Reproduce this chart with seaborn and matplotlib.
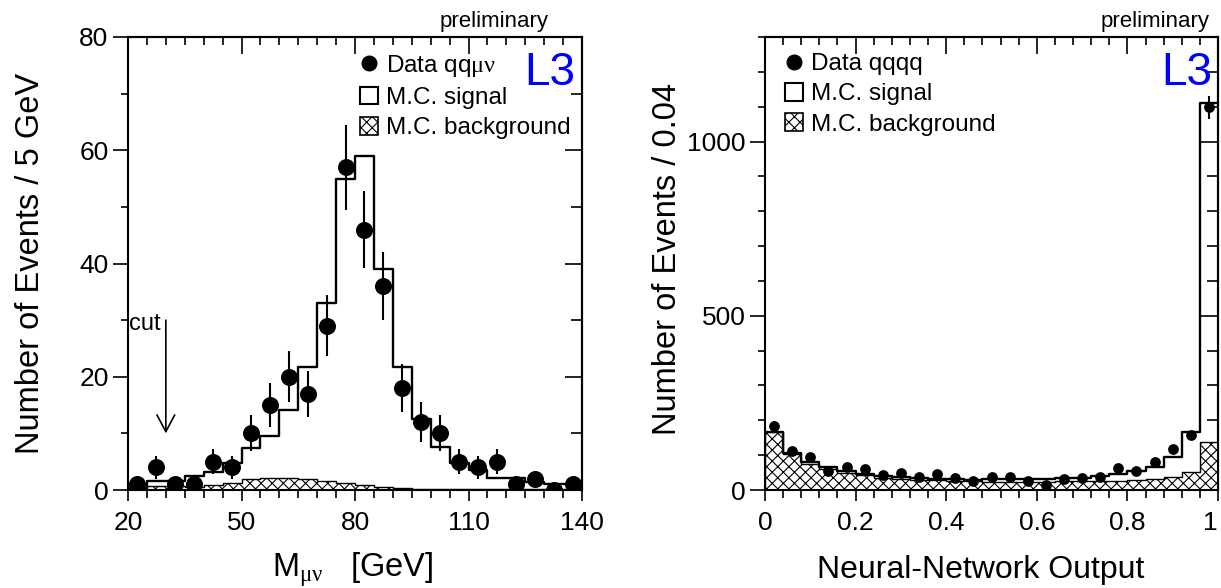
import numpy as np
import pandas as pd
import seaborn as sns
import matplotlib
matplotlib.use("Agg")
import matplotlib.pyplot as plt
from matplotlib.lines import Line2D
from matplotlib.patches import Patch
from matplotlib.ticker import MultipleLocator, FuncFormatter

# 왼쪽: M_mu nu 분포 (qq mu nu), 5 GeV 구간
mass_edges = [20, 25, 30, 35, 40, 45, 50, 55, 60, 65, 70, 75, 80,
              85, 90, 95, 100, 105, 110, 115, 120, 125, 130, 135, 140]
mass_centers = [22.5, 27.5, 32.5, 37.5, 42.5, 47.5, 52.5, 57.5, 62.5, 67.5, 72.5, 77.5,
                82.5, 87.5, 92.5, 97.5, 102.5, 107.5, 112.5, 117.5, 122.5, 127.5, 132.5, 137.5]
mass_data = [1, 4, 1, 1, 5, 4, 10, 15, 20, 17, 29, 57, 46, 36, 18, 12, 10, 5, 4, 5, 1, 2, 0, 1]
mass_err = [1.0, 2.0, 1.0, 1.0, 2.2, 2.0, 3.2, 3.9, 4.5, 4.1, 5.4, 7.5,
            6.8, 6.0, 4.2, 3.5, 3.2, 2.2, 2.0, 2.2, 1.0, 1.4, 0.0, 1.0]
mass_mc_total = [0.3, 1.6, 1.6, 2.5, 3.2, 4.7, 7.4, 9.5, 14.2, 21.8, 33.1, 54.9,
                 59.0, 39.1, 21.8, 12.6, 7.6, 4.7, 3.5, 2.1, 2.1, 1.5, 1.1, 1.1]
mass_mc_bkg = [0.2, 0.7, 0.7, 0.5, 0.9, 1.2, 2.0, 2.2, 2.2, 2.0, 1.6, 1.3,
               0.8, 0.6, 0.3, 0.1, 0.1, 0.1, 0.1, 0.1, 0.1, 0.1, 0.1, 0.1]

# 오른쪽: 신경망 출력 (qqqq), 0.04 구간
nn_edges = [0.0, 0.04, 0.08, 0.12, 0.16, 0.2, 0.24, 0.28, 0.32, 0.36, 0.4, 0.44, 0.48,
            0.52, 0.56, 0.6, 0.64, 0.68, 0.72, 0.76, 0.8, 0.84, 0.88, 0.92, 0.96, 1.0]
nn_centers = [0.02, 0.06, 0.1, 0.14, 0.18, 0.22, 0.26, 0.3, 0.34, 0.38, 0.42, 0.46, 0.5,
              0.54, 0.58, 0.62, 0.66, 0.7, 0.74, 0.78, 0.82, 0.86, 0.9, 0.94, 0.98]
nn_data = [184, 113, 96, 55, 67, 60, 42, 48, 38, 46, 35, 27, 36,
           36, 27, 14, 33, 34, 37, 63, 55, 80, 117, 157, 1098]
nn_err = [13.6, 10.6, 9.8, 7.4, 8.2, 7.7, 6.5, 6.9, 6.2, 6.8, 5.9, 5.2, 6.0,
          6.0, 5.2, 3.7, 5.7, 5.8, 6.1, 7.9, 7.4, 8.9, 10.8, 12.5, 33.1]
nn_mc_total = [167, 105, 80, 65, 54, 46, 40, 37, 34, 33, 31, 30, 31,
               31, 31, 32, 35, 35, 40, 46, 55, 67, 94, 167, 1110]
nn_mc_bkg = [167, 102, 76, 60, 49, 42, 34, 32, 30, 28, 26, 25, 24,
             24, 24, 24, 25, 25, 27, 27, 29, 33, 38, 51, 139]

sns.set_style("ticks")
plt.rcParams['font.family'] = ['Liberation Sans', 'DejaVu Sans']
plt.rcParams['mathtext.fontset'] = 'custom'
plt.rcParams['mathtext.rm'] = 'Liberation Serif'
plt.rcParams['hatch.linewidth'] = 0.8
plt.rcParams['axes.linewidth'] = 1.5
plt.rcParams['axes.edgecolor'] = 'black'
for key in ('text.color', 'axes.labelcolor', 'xtick.color', 'ytick.color'):
    plt.rcParams[key] = 'black'

fig = plt.figure(figsize=(12.21, 5.88), dpi=100)
ax1 = fig.add_axes([128 / 1221, 98 / 588, 454 / 1221, 453 / 588])
ax2 = fig.add_axes([765 / 1221, 98 / 588, 453 / 1221, 453 / 588])


def draw_panel(ax, centers, edges, data, err, total, bkg, ms):
    df = pd.DataFrame({'x': centers, 'data': data, 'err': err, 'total': total, 'bkg': bkg})
    # MC 배경 (빗금), MC 신호+배경 (계단), 데이터 (점 + 오차막대)
    sns.histplot(data=df, x='x', weights='bkg', bins=edges, element='step', fill=True,
                 facecolor='white', edgecolor='black', hatch='xxx', linewidth=1.0, ax=ax)
    sns.histplot(data=df, x='x', weights='total', bins=edges, element='step', fill=False,
                 color='black', linewidth=1.7, ax=ax)
    ax.errorbar(df['x'], df['data'], yerr=df['err'], fmt='none', ecolor='black',
                elinewidth=1.5, capsize=0, zorder=3)
    sns.scatterplot(data=df, x='x', y='data', color='black', s=ms, linewidth=0,
                    zorder=4, ax=ax)


def frame_ticks(ax, xmajor, xminor, ymajor, yminor):
    ax.set_xticks(xmajor)
    ax.xaxis.set_minor_locator(MultipleLocator(xminor))
    ax.yaxis.set_major_locator(MultipleLocator(ymajor))
    ax.yaxis.set_minor_locator(MultipleLocator(yminor))
    ax.tick_params(which='both', direction='out', top=False, right=False,
                   width=1.2, labelsize=19, colors='black')
    ax.tick_params(axis='x', which='major', length=8, pad=7)
    ax.tick_params(axis='x', which='minor', length=6)
    ax.tick_params(axis='y', which='major', length=11, pad=3)
    ax.tick_params(axis='y', which='minor', length=5)
    # 위/오른쪽은 안쪽 눈금
    top = ax.secondary_xaxis('top')
    top.set_xticks(xmajor)
    top.xaxis.set_minor_locator(MultipleLocator(xminor))
    top.tick_params(which='both', direction='in', labeltop=False, width=1.2)
    top.tick_params(which='major', length=12)
    top.tick_params(which='minor', length=6)
    right = ax.secondary_yaxis('right')
    right.yaxis.set_major_locator(MultipleLocator(ymajor))
    right.yaxis.set_minor_locator(MultipleLocator(yminor))
    right.tick_params(which='both', direction='in', labelright=False, width=1.2)
    right.tick_params(which='major', length=12)
    right.tick_params(which='minor', length=8)
    for sec in (top, right):
        for sp in sec.spines.values():
            sp.set_linewidth(1.5)


# ---------- 왼쪽 패널 ----------
draw_panel(ax1, mass_centers, mass_edges, mass_data, mass_err,
           mass_mc_total, mass_mc_bkg, 150)
ax1.set_xlim(20, 140)
ax1.set_ylim(0, 80)
frame_ticks(ax1, [20, 50, 80, 110, 140], 5, 20, 10)
ax1.set_ylabel('Number of Events / 5 GeV', fontsize=23.5)
ax1.yaxis.set_label_coords(-0.180, 0.50)
ax1.set_xlabel('M$_{\\mathrm{\\mu\\nu}}$   [GeV]', fontsize=23.5, va='baseline')
ax1.xaxis.set_label_coords(0.495, -0.190)

ax1.annotate('', xy=(30, 10), xytext=(30, 30),
             arrowprops=dict(arrowstyle='->,head_length=0.6,head_width=0.32',
                             lw=1.2, color='black', shrinkA=0, shrinkB=0,
                             mutation_scale=20))
ax1.text(28.6, 28.3, 'cut', fontsize=17, ha='right', va='baseline')
ax1.text(0.985, 0.894, 'L3', color='blue', fontsize=33, ha='right', va='baseline',
         transform=ax1.transAxes)
ax1.text(0.927, 1.022, 'preliminary', fontsize=16, ha='right', va='baseline',
         transform=ax1.transAxes)

handles = [Line2D([], [], marker='o', ls='none', color='black', markersize=10.5),
           Patch(facecolor='white', edgecolor='black', linewidth=1.5),
           Patch(facecolor='white', edgecolor='black', hatch='xxx', linewidth=1.2)]
leg_kw = dict(loc='upper left', frameon=False, fontsize=17.5, handlelength=0.75,
              handleheight=0.75, handletextpad=0.33, labelspacing=0.32,
              borderpad=0, borderaxespad=0)
ax1.legend(handles, ['Data qq$\\mathrm{\\mu\\nu}$', 'M.C. signal', 'M.C. background'],
           bbox_to_anchor=(0.511, 0.965), **leg_kw)

# ---------- 오른쪽 패널 ----------
draw_panel(ax2, nn_centers, nn_edges, nn_data, nn_err,
           nn_mc_total, nn_mc_bkg, 60)
ax2.set_xlim(0, 1)
ax2.set_ylim(0, 1300)
frame_ticks(ax2, [0, 0.2, 0.4, 0.6, 0.8, 1.0], 0.04, 500, 100)
ax2.xaxis.set_major_formatter(FuncFormatter(lambda v, p: f'{v:g}'))
ax2.xaxis.get_major_ticks()[-1].label1.set_horizontalalignment('right')
ax2.set_ylabel('Number of Events / 0.04', fontsize=23.5)
ax2.yaxis.set_label_coords(-0.181, 0.51)
ax2.set_xlabel('Neural-Network Output', fontsize=23, va='baseline')
ax2.xaxis.set_label_coords(0.477, -0.194)

ax2.text(0.987, 0.894, 'L3', color='blue', fontsize=33, ha='right', va='baseline',
         transform=ax2.transAxes)
ax2.text(0.982, 1.022, 'preliminary', fontsize=16, ha='right', va='baseline',
         transform=ax2.transAxes)
ax2.legend(handles, ['Data qqqq', 'M.C. signal', 'M.C. background'],
           bbox_to_anchor=(0.044, 0.965), **leg_kw)

fig.savefig('out.png', dpi=100)
